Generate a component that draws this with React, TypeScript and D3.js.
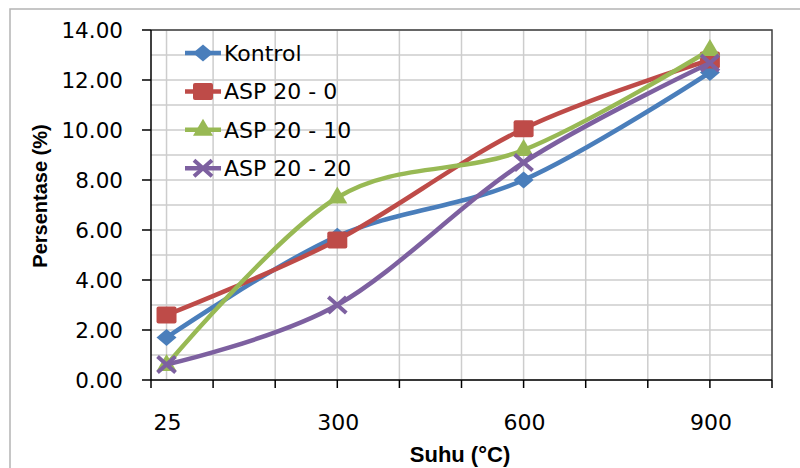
import { useEffect, useRef } from "react"
import * as d3 from "d3"

const suhu = [25, 300, 600, 900]
const seriesNames = ["Kontrol", "ASP 20 - 0", "ASP 20 - 10", "ASP 20 - 20"]
const kontrol = [1.7, 5.75, 8.0, 12.3]
const asp20_0 = [2.6, 5.6, 10.05, 12.8]
const asp20_10 = [0.6, 7.3, 9.2, 13.2]
const asp20_20 = [0.62, 3.0, 8.7, 12.68]
const yTicks = [0, 2, 4, 6, 8, 10, 12, 14]
const yMinor = [1, 3, 5, 7, 9, 11, 13]
const xGrid = [25, 100, 200, 300, 400, 500, 600, 700, 800, 900]
const xTicks = [0, 100, 200, 300, 400, 500, 600, 700, 800, 900, 1000]

const colors = ["#4a7ebb", "#be4b48", "#98b954", "#7d60a0"]
const markers = ["diamond", "square", "triangle", "cross"]

export default function App() {
    const ref = useRef<SVGSVGElement>(null)

    useEffect(() => {
        const svg = d3.select(ref.current)
        svg.selectAll("*").remove()

        const x = d3.scaleLinear().domain([0, 1000]).range([151, 772])
        const y = d3.scaleLinear().domain([0, 14]).range([380, 30])

        // chart area border
        svg.append("rect")
            .attr("x", 10).attr("y", 9)
            .attr("width", 820).attr("height", 480)
            .attr("fill", "white")
            .attr("stroke", "#b4b4b4").attr("stroke-width", 1.5)

        // gridlines
        const grid = svg.append("g").attr("stroke", "#cdcdcd").attr("stroke-width", 1.5)
        grid.selectAll(".gy").data([...yTicks, ...yMinor]).join("line")
            .attr("x1", x(0)).attr("x2", x(1000))
            .attr("y1", d => y(d)).attr("y2", d => y(d))
        grid.selectAll(".gx").data(xGrid).join("line")
            .attr("x1", d => x(d)).attr("x2", d => x(d))
            .attr("y1", y(0)).attr("y2", y(14))

        // plot border
        svg.append("path")
            .attr("d", `M${x(0)} ${y(14)} H${x(1000)} V${y(0)}`)
            .attr("fill", "none").attr("stroke", "#404040").attr("stroke-width", 1.5)

        // axes
        const axes = svg.append("g").attr("stroke", "black").attr("stroke-width", 1.5)
        axes.append("line").attr("x1", x(0)).attr("x2", x(0)).attr("y1", y(0)).attr("y2", y(14))
        axes.append("line").attr("x1", x(0)).attr("x2", x(1000)).attr("y1", y(0)).attr("y2", y(0))
        axes.selectAll(".ty").data(yTicks).join("line")
            .attr("x1", x(0) - 9).attr("x2", x(0))
            .attr("y1", d => y(d)).attr("y2", d => y(d))
        axes.selectAll(".tx").data(xTicks).join("line")
            .attr("x1", d => x(d)).attr("x2", d => x(d))
            .attr("y1", y(0)).attr("y2", y(0) + 8)

        svg.append("g").selectAll("text").data(yTicks).join("text")
            .attr("x", 123).attr("y", d => y(d) + 7.5)
            .attr("text-anchor", "end")
            .attr("font-family", "DejaVu Sans").attr("font-size", 21.5)
            .text(d => d.toFixed(2))

        svg.append("g").selectAll("text").data(suhu).join("text")
            .attr("x", d => x(d) + 1).attr("y", 430)
            .attr("text-anchor", "middle")
            .attr("font-family", "DejaVu Sans").attr("font-size", 22)
            .text(d => d)

        svg.append("text")
            .attr("x", 460).attr("y", 462)
            .attr("text-anchor", "middle")
            .attr("font-family", "Liberation Sans").attr("font-weight", "bold").attr("font-size", 22)
            .text("Suhu (°C)")
        svg.append("text")
            .attr("transform", "translate(47,196) rotate(-90)")
            .attr("text-anchor", "middle")
            .attr("font-family", "Liberation Sans").attr("font-weight", "bold").attr("font-size", 20)
            .text("Persentase (%)")

        const drawMarker = (g: any, type: string, cx: number, cy: number, color: string) => {
            if (type === "diamond") {
                g.append("path")
                    .attr("d", `M${cx} ${cy - 8.5} L${cx + 10} ${cy} L${cx} ${cy + 8.5} L${cx - 10} ${cy} Z`)
                    .attr("fill", color)
            } else if (type === "square") {
                g.append("rect")
                    .attr("x", cx - 10).attr("y", cy - 8.5).attr("width", 20).attr("height", 17)
                    .attr("rx", 2)
                    .attr("fill", color)
            } else if (type === "triangle") {
                g.append("path")
                    .attr("d", `M${cx} ${cy - 11} L${cx + 10} ${cy + 6} L${cx - 10} ${cy + 6} Z`)
                    .attr("fill", color)
            } else {
                g.append("path")
                    .attr("d", `M${cx - 9} ${cy - 8} L${cx + 9} ${cy + 8} M${cx + 9} ${cy - 8} L${cx - 9} ${cy + 8}`)
                    .attr("stroke", color).attr("stroke-width", 4).attr("fill", "none")
            }
        }

        const allSeries = [kontrol, asp20_0, asp20_10, asp20_20]
        const line = d3.line<number>()
            .x((_, i) => x(suhu[i]))
            .y(d => y(d))
            .curve(d3.curveCardinal.tension(0))

        allSeries.forEach((vals, si) => {
            const g = svg.append("g")
            g.append("path")
                .attr("d", line(vals))
                .attr("fill", "none")
                .attr("stroke", colors[si])
                .attr("stroke-width", 4.5)
                .attr("stroke-linejoin", "round")
            vals.forEach((v, i) => drawMarker(g, markers[si], x(suhu[i]), y(v), colors[si]))
        })

        // legend
        const legend = svg.append("g")
        seriesNames.forEach((name, i) => {
            const ly = 53 + i * 38.4
            legend.append("line")
                .attr("x1", 185).attr("x2", 221).attr("y1", ly).attr("y2", ly)
                .attr("stroke", colors[i]).attr("stroke-width", 4.5)
            drawMarker(legend, markers[i], 203, ly, colors[i])
            legend.append("text")
                .attr("x", 224).attr("y", ly + 8)
                .attr("font-family", "DejaVu Sans").attr("font-size", 22)
                .text(name)
        })
    }, [])

    return (
        <svg ref={ref} width={800} height={468} style={{ position: "absolute", left: 0, top: 0 }}>
        </svg>
    )
}
